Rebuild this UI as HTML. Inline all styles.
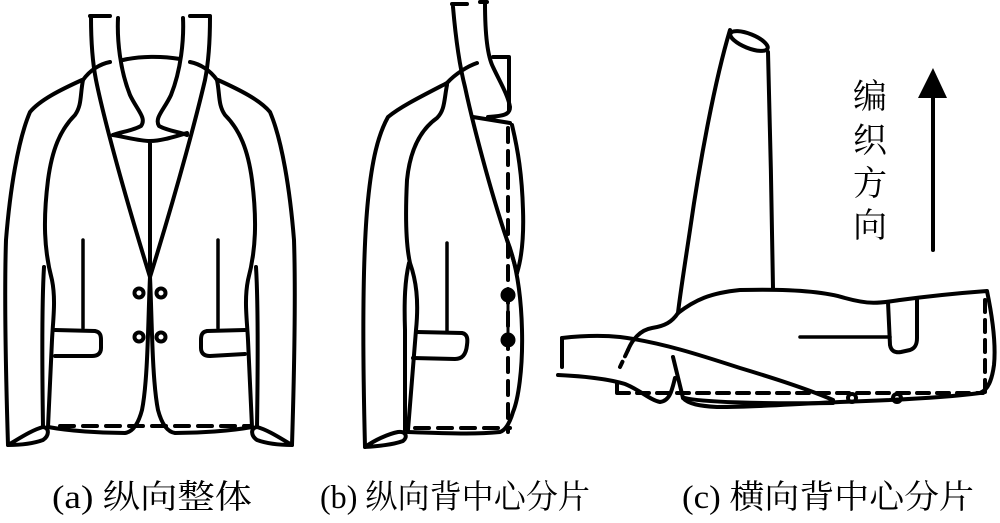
<!DOCTYPE html>
<html><head><meta charset="utf-8"><style>
html,body{margin:0;padding:0;background:#fff;}
svg{display:block;}
text{font-family:"Liberation Serif","Noto Serif CJK SC",serif;fill:#000;}
</style></head><body>
<svg width="1000" height="523" viewBox="0 0 1000 523" xmlns="http://www.w3.org/2000/svg">
<g fill="none" stroke="#000" stroke-width="4" stroke-linecap="round" stroke-linejoin="round">
<!-- (a) -->
<path d="M90,16 H110 M190,16 H210" />
<path d="M91,17 C91,40 92,60 96,80 C102,110 120,180 150,277" />
<path d="M210,17 C210,40 209,60 205,80 C198,110 180,180 150,277" />
<path d="M118,18 C117,40 120,70 130,95 C137,110 147,118 141,126 C132,131 120,132 113,135" />
<path d="M183,18 C184,40 181,70 171,95 C164,110 154,118 159,126 C168,131 180,132 187,135" />
<path d="M123,60 C140,56 162,56 180,59" />
<path d="M110,62 C100,64 90,70 83,80 M190,62 C200,64 210,70 217,80" />
<path d="M113,135 C130,138 140,141 150,141 C160,141 170,138 187,133 M150,141 V277" />
<path d="M83,80 C80,95 82,105 75,115 C60,130 52,150 48,180 C43,220 44,250 52,280 C56,300 53,320 52,340 L48,427" />
<path d="M217,80 C220,95 218,105 225,115 C240,130 248,150 252,180 C257,220 256,250 248,280 C244,300 247,320 248,340 L252,427" />
<path d="M82,80 C60,90 40,100 30,112 C18,140 10,190 6,240 C4,300 6,380 8,445" />
<path d="M218,80 C240,90 260,100 270,112 C282,140 290,190 294,240 C296,300 294,380 292,445" />
<path d="M8,445 C20,438 32,430 43,427 C50,428 49,436 43,440 C32,444 20,445 8,445 Z" />
<path d="M292,445 C280,438 268,430 257,427 C250,428 251,436 257,440 C268,444 280,445 292,445 Z" />
<path d="M44,267 C42,300 42,360 43,427 M256,267 C258,300 258,360 257,427" />
<path d="M150,277 C148,320 148,380 142,410 C138,425 132,432 125,433 C100,433 70,431 48,427" />
<path d="M150,277 C152,320 152,380 158,410 C162,425 168,432 175,433 C200,433 230,431 252,427" />
<path d="M83,240 V328 M218,240 V328" stroke-width="3.5"/>
<path d="M55,330 L95,331 C100,332 101,335 101,340 V348 C101,354 97,356 92,356 L55,356" />
<path d="M245,330 L207,331 C202,332 201,335 201,340 V348 C201,354 205,356 210,356 L245,354" />
<circle cx="139" cy="293" r="4.5"/><circle cx="161" cy="293" r="4.5"/>
<circle cx="139" cy="337" r="4.5"/><circle cx="161" cy="337" r="4.5"/>
<!-- (b) -->
<path d="M452,4 H467 M480,2 H487" />
<path d="M453,7 C455,30 458,60 465,87 C472,120 490,190 507,240 C512,255 515,265 517,273" />
<path d="M485,3 C485,30 487,55 493,67 C500,82 508,95 510,107 C510,114 505,116 488,117" />
<path d="M493,57 H509 V110" />
<path d="M473,117 L510,123" />
<path d="M477,63 C468,66 455,74 447,83" />
<path d="M447,83 C420,97 400,107 388,117 C378,135 372,160 368,200 C363,250 362,330 365,447" />
<path d="M447,85 C444,100 445,110 437,118 C420,130 410,150 407,180 C405,220 406,245 410,263 C416,280 419,300 416,330 L408,430" />
<path d="M409,263 C405,280 404,300 405,330 L405,430" />
<path d="M365,447 C375,440 388,434 398,432 C406,431 408,437 403,441 C392,445 378,446 365,447 Z" />
<path d="M512,125 C518,150 522,175 523,210 C524,240 521,260 517,273" />
<path d="M507,240 C515,260 521,290 522,330 C523,370 518,400 513,412 C510,422 506,430 500,432 C480,434 460,434 408,432" />
<path d="M508,128 V432 M415,428 H510" stroke-dasharray="14,9" />
<path d="M447,243 V332" stroke-width="3.5"/>
<path d="M417,332 L462,333 C467,334 468,338 467,345 C466,355 462,359 455,359 L413,358" />
<path d="M508,295 V340" stroke-width="3"/>
<circle cx="508" cy="295" r="5.5" fill="#000"/><circle cx="508" cy="340" r="5.5" fill="#000"/>
<path d="M60,426 H250" stroke-dasharray="14,9" />
<!-- (c) -->
<path d="M730,30 C715,80 700,160 690,230 C684,270 680,295 678,313" />
<path d="M768,52 C770,120 772,220 773,288" />
<ellipse cx="749" cy="41" rx="20" ry="7" transform="rotate(22 749 41)" />
<path d="M678,313 C695,300 710,293 740,290 C780,289 820,290 845,298 C870,305 880,303 900,300 C930,296 960,293 987,291 C993,320 996,345 994,365 C992,380 988,390 980,393 C950,397 900,400 840,402 C790,404 760,407 717,407 C700,406 688,404 683,398" />
<path d="M678,313 C672,322 665,326 652,328 C640,330 632,340 628,350" />
<path d="M628,350 L620,367" stroke-dasharray="7,6" />
<path d="M562,338 C580,336 600,335 620,337 C660,342 700,355 740,368 C780,380 810,390 833,400" />
<path d="M562,338 V367 M558,375 C580,376 605,378 625,384 C640,390 650,400 660,402 C670,401 672,390 675,378" />
<path d="M673,357 L683,398" />
<path d="M685,398 C700,402 760,404 833,403" />
<path d="M617,383 V393 M617,393 H983 M985,300 V393" stroke-dasharray="12,8" />
<path d="M800,337 H890" stroke-width="3.5"/>
<path d="M888,302 L890,345 C891,351 895,353 901,352 L910,350 C916,348 917,343 917,338 V298" />
<circle cx="852" cy="398" r="4"/><circle cx="897" cy="398" r="4"/>
<path d="M933,250 V90" />
</g>
<polygon points="918,98 933,68 947,98" fill="#000"/>
<g font-size="34" text-anchor="middle">
<text x="870" y="108">编</text>
<text x="870" y="152">织</text>
<text x="870" y="195">方</text>
<text x="870" y="237">向</text>
</g>
<g font-size="33">
<text x="52" y="508" textLength="200" lengthAdjust="spacingAndGlyphs">(a) 纵向整体</text>
<text x="320" y="508" textLength="270" lengthAdjust="spacingAndGlyphs">(b) 纵向背中心分片</text>
<text x="682" y="508" textLength="292" lengthAdjust="spacingAndGlyphs">(c) 横向背中心分片</text>
</g>
</svg>
</body></html>
